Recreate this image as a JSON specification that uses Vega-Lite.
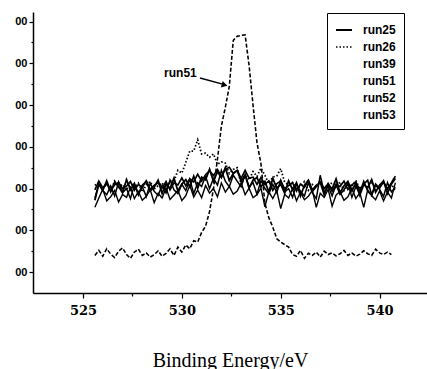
{
"$schema": "https://vega.github.io/schema/vega-lite/v6.json",
"width": 394, "height": 281,
"autosize": {"type": "none"},
"padding": {"left": 33, "top": 12, "right": 0, "bottom": 76},
"background": "white",
"config": {"view": {"stroke": null}, "axis": {"grid": false, "domainColor": "black", "domainWidth": 1.5, "tickColor": "black", "tickWidth": 1.2, "labelColor": "black"}},
"encoding": {
 "x": {"field": "e", "type": "quantitative", "scale": {"domain": [522.47, 542.4], "nice": false, "zero": false},
  "axis": {"title": "Binding Energy/eV", "values": [525, 527.5, 530, 532.5, 535, 537.5, 540],
   "labelExpr": "datum.value % 5 === 0 ? format(datum.value, 'd') : ''",
   "tickSize": {"condition": {"test": "datum.value % 5 === 0", "value": 5}, "value": 3},
   "labelFont": "DejaVu Serif", "labelFontWeight": "bold", "labelFontSize": 13, "labelPadding": 6,
   "titleFont": "Liberation Serif", "titleFontWeight": "normal", "titleFontSize": 20, "titleY": 73, "titleBaseline": "alphabetic", "titleColor": "black"}},
 "y": {"field": "value", "type": "quantitative", "scale": {"domain": [500, 7230], "nice": false, "zero": false},
  "axis": {"title": null, "values": [1000, 1500, 2000, 2500, 3000, 3500, 4000, 4500, 5000, 5500, 6000, 6500, 7000],
   "labelExpr": "datum.value % 1000 === 0 ? slice(format(datum.value, 'd'), -2) : ''",
   "tickSize": {"condition": {"test": "datum.value % 1000 === 0", "value": 4}, "value": 2},
   "labelFont": "Liberation Sans", "labelFontWeight": "bold", "labelFontSize": 11, "labelPadding": 2}}
},
"layer": [
 {
  "data": {"values": [
{"e":525.6,"run25":2720,"run26":3080,"run39":2970,"run51":1400,"run52":2776,"run53":2552},
{"e":525.8,"run25":3110,"run26":3140,"run39":3180,"run51":1520,"run52":3112,"run53":2776},
{"e":526.0,"run25":2960,"run26":3010,"run39":3020,"run51":1380,"run52":2952,"run53":2986},
{"e":526.2,"run25":3185,"run26":3110,"run39":3120,"run51":1560,"run52":2856,"run53":2706},
{"e":526.4,"run25":2930,"run26":2950,"run39":2940,"run51":1430,"run52":3064,"run53":2804},
{"e":526.6,"run25":3155,"run26":3180,"run39":3090,"run51":1350,"run52":2824,"run53":2958},
{"e":526.8,"run25":3050,"run26":3030,"run39":3150,"run51":1500,"run52":3160,"run53":2678},
{"e":527.0,"run25":2900,"run26":3100,"run39":3000,"run51":1580,"run52":2904,"run53":2860},
{"e":527.2,"run25":3215,"run26":2960,"run39":3060,"run51":1420,"run52":3000,"run53":2790},
{"e":527.4,"run25":2975,"run26":3160,"run39":3170,"run51":1330,"run52":2760,"run53":3028},
{"e":527.6,"run25":3125,"run26":3020,"run39":2960,"run51":1480,"run52":3096,"run53":2762},
{"e":527.8,"run25":2855,"run26":3130,"run39":3100,"run51":1550,"run52":2872,"run53":2930},
{"e":528.0,"run25":3080,"run26":2920,"run39":3030,"run51":1400,"run52":3048,"run53":2720},
{"e":528.2,"run25":3170,"run26":3090,"run39":3190,"run51":1460,"run52":2808,"run53":2818},
{"e":528.4,"run25":2945,"run26":3170,"run39":2980,"run51":1360,"run52":3128,"run53":2972},
{"e":528.6,"run25":3035,"run26":2990,"run39":3080,"run51":1420,"run52":2936,"run53":2664},
{"e":528.8,"run25":3200,"run26":3070,"run39":3140,"run51":1510,"run52":2840,"run53":2888},
{"e":529.0,"run25":2885,"run26":3140,"run39":3010,"run51":1380,"run52":3080,"run53":2776},
{"e":529.2,"run25":3104,"run26":2970,"run39":3171,"run51":1450,"run52":2896,"run53":3018},
{"e":529.4,"run25":3005,"run26":3180,"run39":2969,"run51":1560,"run52":3205,"run53":2741},
{"e":529.6,"run25":3251,"run26":3180,"run39":3137,"run51":1400,"run52":2970,"run53":2842},
{"e":529.8,"run25":2945,"run26":3440,"run39":3088,"run51":1600,"run52":2880,"run53":2958},
{"e":530.0,"run25":3110,"run26":3370,"run39":3257,"run51":1480,"run52":3101,"run53":2713},
{"e":530.2,"run25":3215,"run26":3630,"run39":3066,"run51":1650,"run52":2952,"run53":2832},
{"e":530.4,"run25":3044,"run26":3900,"run39":3236,"run51":1560,"run52":3227,"run53":3081},
{"e":530.6,"run25":3296,"run26":3900,"run39":3161,"run51":1750,"run52":2882,"run53":2800},
{"e":530.8,"run25":3008,"run26":4170,"run39":3345,"run51":1720,"run52":3142,"run53":2966},
{"e":531.0,"run25":3275,"run26":3830,"run39":3179,"run51":1950,"run52":3053,"run53":2783},
{"e":531.2,"run25":3212,"run26":3850,"run39":3333,"run51":2100,"run52":3298,"run53":3076},
{"e":531.4,"run25":3464,"run26":3750,"run39":3427,"run51":2450,"run52":3000,"run53":2892},
{"e":531.6,"run25":3176,"run26":3830,"run39":3312,"run51":3000,"run52":3245,"run53":3003},
{"e":531.8,"run25":3407,"run26":3580,"run39":3458,"run51":3700,"run52":3086,"run53":2803},
{"e":532.0,"run25":3263,"run26":3640,"run39":3295,"run51":4500,"run52":3438,"run53":3134},
{"e":532.2,"run25":3500,"run26":3610,"run39":3460,"run51":4950,"run52":3176,"run53":2916},
{"e":532.4,"run25":3194,"run26":3360,"run39":3512,"run51":5450,"run52":3043,"run53":3053},
{"e":532.6,"run25":3362,"run26":3460,"run39":3367,"run51":6550,"run52":3322,"run53":2866},
{"e":532.8,"run25":3431,"run26":3500,"run39":3441,"run51":6650,"run52":3178,"run53":2940},
{"e":533.0,"run25":3179,"run26":3100,"run39":3246,"run51":6670,"run52":3043,"run53":3137},
{"e":533.2,"run25":3329,"run26":3310,"run39":3438,"run51":6680,"run52":3339,"run53":2857},
{"e":533.4,"run25":3011,"run26":3210,"run39":3247,"run51":5950,"run52":3042,"run53":3010},
{"e":533.6,"run25":3203,"run26":3410,"run39":3275,"run51":5000,"run52":3142,"run53":2784},
{"e":533.8,"run25":3266,"run26":3290,"run39":3101,"run51":4100,"run52":2866,"run53":2856},
{"e":534.0,"run25":3044,"run26":3490,"run39":3266,"run51":3600,"run52":3195,"run53":3011},
{"e":534.2,"run25":3173,"run26":3320,"run39":3100,"run51":2650,"run52":3003,"run53":2566},
{"e":534.4,"run25":2915,"run26":3120,"run39":3187,"run51":2300,"run52":2877,"run53":2923},
{"e":534.6,"run25":3245,"run26":3280,"run39":2958,"run51":2080,"run52":3104,"run53":2762},
{"e":534.8,"run25":3011,"run26":3300,"run39":3117,"run51":1800,"run52":2906,"run53":2954},
{"e":535.0,"run25":3107,"run26":3480,"run39":3185,"run51":1720,"run52":3202,"run53":2524},
{"e":535.2,"run25":2891,"run26":3150,"run39":2998,"run51":1660,"run52":2925,"run53":2863},
{"e":535.4,"run25":3185,"run26":3090,"run39":3070,"run51":1600,"run52":3000,"run53":2776},
{"e":535.6,"run25":2975,"run26":3150,"run39":3140,"run51":1420,"run52":2792,"run53":3000},
{"e":535.8,"run25":3140,"run26":3000,"run39":2940,"run51":1380,"run52":3112,"run53":2706},
{"e":536.0,"run25":2825,"run26":3060,"run39":3110,"run51":1520,"run52":2936,"run53":2916},
{"e":536.2,"run25":3080,"run26":3170,"run39":3030,"run51":1330,"run52":2824,"run53":2734},
{"e":536.4,"run25":3200,"run26":2960,"run39":3190,"run51":1450,"run52":3144,"run53":2818},
{"e":536.6,"run25":2930,"run26":3100,"run39":2970,"run51":1400,"run52":2904,"run53":2958},
{"e":536.8,"run25":3050,"run26":3030,"run39":3080,"run51":1480,"run52":2760,"run53":2552},
{"e":537.0,"run25":3155,"run26":3190,"run39":3150,"run51":1360,"run52":3320,"run53":2888},
{"e":537.2,"run25":2855,"run26":2980,"run39":3000,"run51":1500,"run52":2904,"run53":2790},
{"e":537.4,"run25":3110,"run26":3080,"run39":3120,"run51":1420,"run52":3064,"run53":2986},
{"e":537.6,"run25":2990,"run26":3140,"run39":2930,"run51":1460,"run52":2824,"run53":2580},
{"e":537.8,"run25":3230,"run26":3010,"run39":3100,"run51":1390,"run52":3096,"run53":2846},
{"e":538.0,"run25":2900,"run26":3160,"run39":3050,"run51":1440,"run52":2856,"run53":2930},
{"e":538.2,"run25":3065,"run26":2950,"run39":3180,"run51":1520,"run52":2968,"run53":2720},
{"e":538.4,"run25":3170,"run26":3110,"run39":2980,"run51":1400,"run52":3128,"run53":2804},
{"e":538.6,"run25":2945,"run26":3050,"run39":3090,"run51":1460,"run52":2792,"run53":3014},
{"e":538.8,"run25":3125,"run26":3200,"run39":3160,"run51":1380,"run52":3048,"run53":2762},
{"e":539.0,"run25":2840,"run26":2990,"run39":2960,"run51":1430,"run52":2888,"run53":2902},
{"e":539.2,"run25":3095,"run26":3130,"run39":3110,"run51":1510,"run52":3176,"run53":2552},
{"e":539.4,"run25":3020,"run26":3020,"run39":3200,"run51":1440,"run52":2936,"run53":2972},
{"e":539.6,"run25":3215,"run26":3170,"run39":2850,"run51":1400,"run52":2840,"run53":2832},
{"e":539.8,"run25":2915,"run26":2970,"run39":3110,"run51":1550,"run52":3080,"run53":2734},
{"e":540.0,"run25":3080,"run26":3090,"run39":3010,"run51":1460,"run52":2984,"run53":2944},
{"e":540.2,"run25":3185,"run26":3150,"run39":3160,"run51":1420,"run52":2808,"run53":2706},
{"e":540.4,"run25":2885,"run26":3000,"run39":2990,"run51":1480,"run52":3144,"run53":2916},
{"e":540.6,"run25":3110,"run26":3120,"run39":3140,"run51":1420,"run52":2920,"run53":2776},
{"e":540.8,"run25":3245,"run26":2930,"run39":3300,"run51":null,"run52":3032,"run53":3140}
  ]},
  "transform": [{"fold": ["run25", "run26", "run39", "run51", "run52", "run53"], "as": ["run", "value"]}, {"filter": "isValid(datum.value)"}],
  "mark": {"type": "line", "color": "black"},
  "encoding": {
   "strokeDash": {"field": "run", "type": "nominal",
    "scale": {"domain": ["run25", "run26", "run39", "run51", "run52", "run53"], "range": [[1, 0], [1.5, 2], [1, 0], [4, 2], [1, 0], [1, 0]]},
    "legend": {"title": null, "orient": "none", "legendX": 294, "legendY": 1, "padding": 8, "strokeColor": "black", "fillColor": "white",
     "symbolType": "stroke", "symbolSize": 256, "symbolStrokeWidth": 1.3, "symbolStrokeColor": "black",
     "labelFont": "Liberation Sans", "labelFontWeight": "bold", "labelFontSize": 12, "labelOffset": 10, "rowPadding": 2, "labelColor": "black",
     "encode": {"symbols": {"update": {"opacity": {"signal": "datum.value === 'run25' || datum.value === 'run26' ? 1 : 0"}}}}}},
   "strokeWidth": {"field": "run", "type": "nominal", "scale": {"domain": ["run25", "run26", "run39", "run51", "run52", "run53"], "range": [1.8, 1.4, 1.8, 1.1, 1.8, 1.6]}, "legend": null}
  }
 },
 {
  "data": {"values": [{"e": 529.1, "value": 5674, "t": "run51"}]},
  "mark": {"type": "text", "align": "left", "baseline": "alphabetic", "font": "Liberation Sans", "fontWeight": "bold", "fontSize": 12, "color": "black"},
  "encoding": {"text": {"field": "t"}}
 },
 {
  "data": {"values": [{"e": 530.92, "value": 5650, "e2": 532.2, "value2": 5485}]},
  "mark": {"type": "rule", "color": "black", "strokeWidth": 1.5},
  "encoding": {"x2": {"field": "e2"}, "y2": {"field": "value2"}}
 },
 {
  "data": {"values": [{"e": 532.16, "value": 5482}]},
  "mark": {"type": "point", "shape": "triangle-right", "filled": true, "color": "black", "size": 45, "angle": 16, "opacity": 1}
 }
]
}
